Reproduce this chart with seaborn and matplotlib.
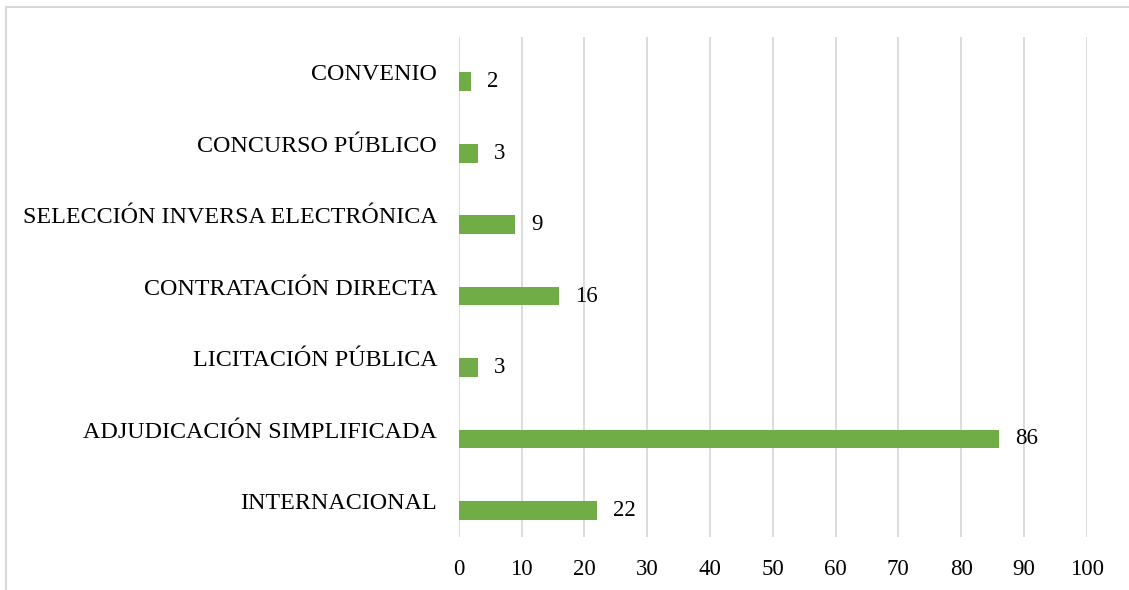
import matplotlib
matplotlib.use("Agg")
import matplotlib.pyplot as plt
import seaborn as sns
import pandas as pd
from matplotlib.patches import Rectangle
from matplotlib.transforms import ScaledTranslation

categories = ["CONVENIO", "CONCURSO PÚBLICO", "SELECCIÓN INVERSA ELECTRÓNICA",
              "CONTRATACIÓN DIRECTA", "LICITACIÓN PÚBLICA",
              "ADJUDICACIÓN SIMPLIFICADA", "INTERNACIONAL"]
values = [2, 3, 9, 16, 3, 86, 22]
x_ticks = [0, 10, 20, 30, 40, 50, 60, 70, 80, 90, 100]

sns.set_theme(style="white")
plt.rcParams['font.family'] = ['Liberation Serif', 'DejaVu Serif']

df = pd.DataFrame({
    "cat": categories * 2,
    "val": [0] * len(values) + values,
    "series": ["blank"] * len(values) + ["value"] * len(values),
})

fig = plt.figure(figsize=(11.29, 5.90), dpi=100)
ax = fig.add_axes([458.7 / 1129, 1 - 536.7 / 590, (1086.7 - 458.7) / 1129, 500 / 590])

sns.barplot(data=df, x="val", y="cat", hue="series", orient="h",
            palette={"blank": "#ffffff", "value": "#70AD47"},
            width=0.524, gap=0, dodge=True, linewidth=0, legend=False,
            saturation=1, ax=ax, errorbar=None)

texts = ax.bar_label(ax.containers[1], labels=[str(v) for v in values], padding=11.5,
                     fontsize=16.5, color="#000000")
shift = ScaledTranslation(0, -4 / 100, fig.dpi_scale_trans)
for t in texts:
    t.set_transform(t.get_transform() + shift)

ax.set_xlim(0, 100)
ax.set_xticks(x_ticks)
ax.set_xticklabels([str(t) for t in x_ticks])
ax.set_xlabel("")
ax.set_ylabel("")
ax.grid(axis="x", color="#D9D9D9", linewidth=1.3)
ax.grid(axis="y", visible=False)
ax.set_axisbelow(True)
for s in ax.spines.values():
    s.set_visible(False)
ax.tick_params(axis="x", length=0, pad=16, labelsize=16.5, colors="#000000")
ax.tick_params(axis="y", length=0, pad=15.5, labelsize=17.3, colors="#000000")

fig.patches.append(Rectangle((5.5 / 1129, -0.1), 1.2, 1.1 - 7 / 590,
                             transform=fig.transFigure, fill=False,
                             edgecolor="#D9D9D9", linewidth=1.5))

fig.savefig("out.png", dpi=100)
